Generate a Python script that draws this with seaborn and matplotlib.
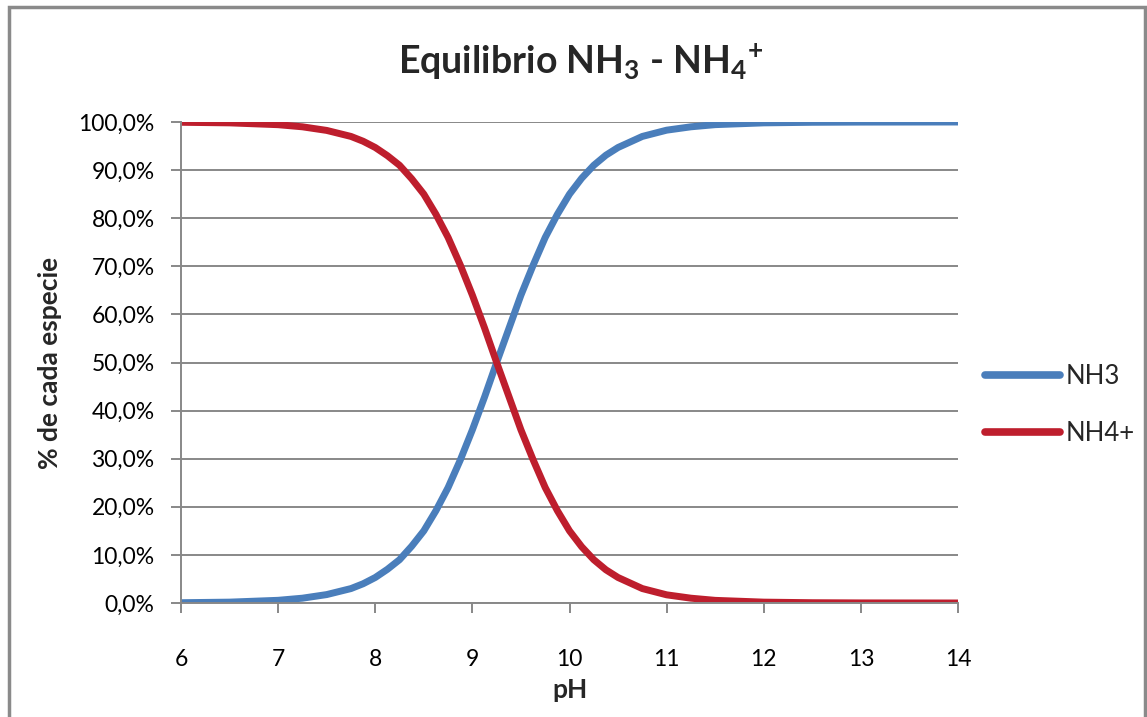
import matplotlib
matplotlib.use("Agg")
import matplotlib.pyplot as plt
import matplotlib.ticker as mticker
from matplotlib.patches import Rectangle
import seaborn as sns
import pandas as pd

# ---- data ----
ph = [6, 6.5, 7, 7.25, 7.5, 7.75, 7.875, 8, 8.125, 8.25, 8.375, 8.5, 8.625, 8.75,
      8.875, 9, 9.125, 9.25, 9.375, 9.5, 9.625, 9.75, 9.875, 10, 10.125, 10.25,
      10.375, 10.5, 10.75, 11, 11.25, 11.5, 12, 12.5, 13, 14]
nh3 = [0.06, 0.18, 0.56, 1.0, 1.75, 3.0, 4.0, 5.3, 7.0, 9.0, 11.8, 15.0, 19.2, 24.0,
       29.7, 36.0, 42.8, 50.0, 57.0, 64.0, 70.2, 76.0, 80.8, 85.0, 88.3, 91.0,
       93.1, 94.7, 97.0, 98.3, 99.0, 99.45, 99.82, 99.94, 99.98, 100.0]
nh4 = [99.94, 99.82, 99.44, 99.0, 98.25, 97.0, 96.0, 94.7, 93.0, 91.0, 88.2, 85.0,
       80.8, 76.0, 70.3, 64.0, 57.2, 50.0, 43.0, 36.0, 29.8, 24.0, 19.2, 15.0, 11.7,
       9.0, 6.9, 5.3, 3.0, 1.7, 1.0, 0.55, 0.18, 0.06, 0.02, 0.0]
series_names = ["NH3", "NH4+"]
x_ticks = [6, 7, 8, 9, 10, 11, 12, 13, 14]
y_ticks = [0, 10, 20, 30, 40, 50, 60, 70, 80, 90, 100]
title_text = r"Equilibrio NH$_3$ - NH$_4$$^{+}$"
x_label = "pH"
y_label = "% de cada especie"

df = pd.DataFrame({
    "pH": ph * 2,
    "valor": nh3 + nh4,
    "especie": [series_names[0]] * len(ph) + [series_names[1]] * len(ph),
})

sns.set_theme(style="white")
plt.rcParams["font.family"] = ["Lato", "DejaVu Sans"]
plt.rcParams["mathtext.fontset"] = "custom"
plt.rcParams["mathtext.rm"] = "Lato:bold"
plt.rcParams["mathtext.it"] = "Lato:bold"
plt.rcParams["mathtext.bf"] = "Lato:bold"

fig = plt.figure(figsize=(11.47, 7.17), dpi=100)
ax = fig.add_axes([181 / 1147, 1 - 603 / 717, (958 - 181) / 1147, (603 - 122) / 717])

palette = {"NH3": "#4A7EBB", "NH4+": "#BE1E2D"}
sns.lineplot(data=df, x="pH", y="valor", hue="especie", palette=palette,
             linewidth=5, ax=ax, sort=False, legend=True)
for ln in ax.get_lines():
    ln.set_solid_capstyle("round")
    ln.set_solid_joinstyle("round")

ax.set_xlim(6, 14)
ax.set_ylim(0, 100)
ax.set_xticks(x_ticks)
ax.set_yticks(y_ticks)
ax.yaxis.set_major_formatter(mticker.FuncFormatter(lambda v, p: f"{v:.1f}%".replace(".", ",")))

grid_col = "#888888"
ax.grid(axis="y", color=grid_col, linewidth=1.4)
ax.set_axisbelow(True)
for s in ["top", "right"]:
    ax.spines[s].set_visible(False)
for s in ["left", "bottom"]:
    ax.spines[s].set_color(grid_col)
    ax.spines[s].set_linewidth(1.4)

ax.tick_params(axis="both", which="major", direction="out", length=7, width=1.4,
               color=grid_col, labelsize=16.5, labelcolor="#000000")
ax.tick_params(axis="x", pad=26, bottom=True)
ax.tick_params(axis="y", pad=12, left=True)

ax.set_xlabel(x_label, fontsize=19, fontweight="bold", labelpad=6)
ax.set_ylabel(y_label, fontsize=19, fontweight="bold", labelpad=12)

fig.text(0.506, 1 - 62 / 717, title_text, ha="center", va="center",
         fontsize=27, fontweight="bold")

handles, labels = ax.get_legend_handles_labels()
for h in handles:
    h.set_linewidth(5.5)
    h.set_solid_capstyle("round")
ax.legend(handles, labels, loc="center left",
          bbox_to_anchor=(985 / 1147, 1 - 405 / 717), bbox_transform=fig.transFigure,
          frameon=False, fontsize=18.5, handlelength=2.9, handletextpad=0.25,
          labelspacing=1.25, borderpad=0, borderaxespad=0, title=None)

# outer chart frame
fig.patches.append(Rectangle((9 / 1147, -0.05), (1145 - 9) / 1147, 1.05 - 7 / 717,
                             transform=fig.transFigure, fill=False,
                             edgecolor="#8A8A8A", linewidth=2.5))

fig.savefig("out.png", dpi=100, facecolor="white")
